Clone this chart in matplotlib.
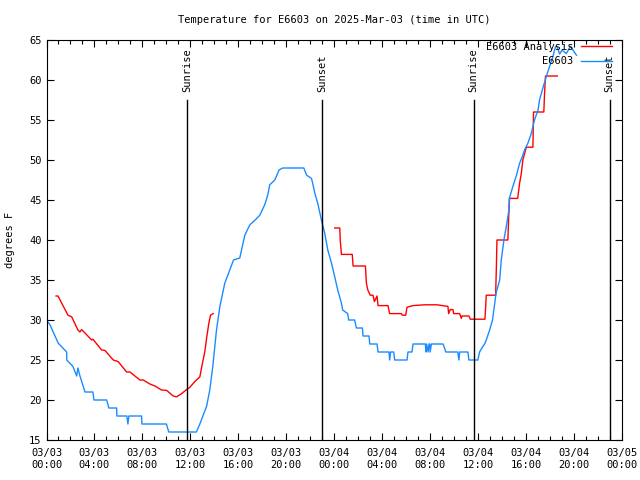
import matplotlib
matplotlib.use("Agg")
import matplotlib.pyplot as plt
import matplotlib.dates as mdates
import numpy as np
import pandas as pd

start = pd.Timestamp("2025-03-03 00:00")

# station obs: hours since 03/03 00:00 UTC, degrees F
obs_hours = [0.0, 0.29, 0.71, 0.98, 1.68, 1.69, 2.2, 2.52, 2.62, 2.79, 3.21, 3.87, 3.96,
             5.02, 5.2, 5.85, 5.87, 6.7, 6.79, 6.87, 7.04, 7.93, 7.96, 10.0, 10.2, 12.5,
             12.79, 13.04, 13.35, 13.62, 13.87, 14.18, 14.46, 14.87, 15.29, 15.6, 16.12,
             16.54, 16.96, 17.4, 17.79, 18.2, 18.45, 18.62, 19.04, 19.4, 19.7, 21.46,
             21.7, 22.1, 22.2, 22.37, 22.62, 22.93, 23.2, 23.46, 23.77, 24.04, 24.29,
             24.6, 24.7, 25.12, 25.2, 25.7, 25.85, 26.35, 26.4, 26.9, 26.96, 27.57, 27.65,
             28.57, 28.62, 28.7, 28.96, 29.04, 30.07, 30.15, 30.48, 30.57, 31.6, 31.65,
             31.7, 31.83, 31.9, 31.96, 32.0, 32.1, 33.07, 33.2, 33.3, 34.3, 34.4, 34.46,
             35.15, 35.23, 35.98, 36.12, 36.4, 36.54, 36.68, 36.96, 37.2, 37.5, 37.8,
             37.93, 38.15, 38.35, 38.57, 38.6, 38.9, 39.2, 39.46, 39.68, 39.87, 40.15,
             40.43, 40.7, 41.0, 41.12, 41.4, 41.68, 41.96, 42.23, 42.46, 42.57, 42.8,
             43.0, 43.35, 43.7, 44.2]
obs_temp = [30, 29.4, 28, 27.1, 26, 25, 24.2, 23, 24, 23, 21, 21, 20,
            20, 19, 19, 18, 18, 17, 18, 18, 18, 17, 17, 16, 16,
            17, 18, 19.2, 21.25, 24.2, 28.75, 31.7, 34.6, 36.25, 37.5, 37.75,
            40.6, 41.9, 42.5, 43.1, 44.4, 45.6, 46.9, 47.5, 48.75, 49, 49,
            48.1, 47.7, 47.1, 45.9, 44.6, 42.5, 40.9, 38.75, 37.1, 35.4, 33.75,
            32.1, 31.25, 30.8, 30, 30, 29, 29, 28, 28, 27, 27, 26,
            26, 25, 26, 26, 25, 25, 26, 26, 27, 27, 26,
            27, 26, 27, 27, 26, 27, 27, 26.5, 26, 26, 25, 26,
            26, 25, 25, 26, 26.7, 27, 27.5, 28.75, 30, 33.4, 35,
            37.5, 40, 41.7, 43.75, 45.2, 46.7, 48.1, 49.6, 50.4, 51.25, 52.1,
            53.3, 55, 56.25, 57.5, 59, 60.4, 61.7, 62.9, 64.2, 64.2, 63.25,
            63.75, 63.3, 64.2, 63.1]

# analysis, two pieces (gap in the afternoon/evening of 03/03)
ana1_hours = [0.8, 0.96, 1.79, 2.1, 2.62, 2.79, 2.93, 3.77, 3.87, 4.6, 4.87, 5.57, 5.98,
              6.68, 6.96, 7.79, 8.07, 8.62, 9.04, 9.6, 10.02, 10.57, 10.85, 11.27, 11.68,
              11.96, 12.37, 12.79, 12.98, 13.2, 13.35, 13.54, 13.68, 13.9]
ana1_temp = [33, 33, 30.6, 30.4, 28.75, 28.5, 28.8, 27.5, 27.6, 26.25, 26.2, 25, 24.8,
             23.5, 23.5, 22.5, 22.5, 22, 21.75, 21.25, 21.2, 20.5, 20.4, 20.8, 21.3,
             21.6, 22.3, 22.9, 24.4, 26, 27.7, 29.6, 30.6, 30.8]
ana2_hours = [24.04, 24.46, 24.5, 24.6, 25.5, 25.57, 26.6, 26.68, 26.8, 27.0, 27.23, 27.35,
              27.57, 27.65, 28.48, 28.62, 29.6, 29.68, 29.96, 30.07, 30.57, 31.54, 32.57,
              33.48, 33.54, 33.68, 33.9, 33.96, 34.46, 34.6, 34.65, 35.23, 35.35, 36.57,
              36.68, 37.46, 37.52, 37.57, 38.48, 38.54, 38.62, 39.3, 39.46, 39.6, 39.73,
              40.02, 40.57, 40.62, 41.48, 41.54, 41.62, 42.6]
ana2_temp = [41.5, 41.5, 40, 38.2, 38.2, 36.75, 36.75, 34.6, 33.75, 33.1, 33.1, 32.3,
             33.0, 31.8, 31.8, 30.8, 30.8, 30.6, 30.6, 31.6, 31.8, 31.9, 31.9,
             31.7, 30.8, 31.3, 31.3, 30.8, 30.8, 30.2, 30.5, 30.5, 30.1, 30.1,
             33.1, 33.1, 36.5, 40, 40, 42.5, 45.2, 45.2, 47.1, 48.3, 50,
             51.6, 51.6, 56.0, 56.0, 58.3, 60.5, 60.5]

sun_hours = [11.7, 22.96, 35.62, 46.96]
sun_labels = ["Sunrise", "Sunset", "Sunrise", "Sunset"]

def to_time(h):
    return start + pd.to_timedelta(np.array(h), unit="h")

mono = "DejaVu Sans Mono"
fs = 7.5

fig = plt.figure(figsize=(6.4, 4.8), dpi=100)
ax = fig.add_axes([46.5 / 640, 40 / 480, 575.5 / 640, 400 / 480])

ax.plot(to_time(ana1_hours), ana1_temp, color="#ff0000", lw=1.0, label="E6603 Analysis")
ax.plot(to_time(ana2_hours), ana2_temp, color="#ff0000", lw=1.0)
ax.plot(to_time(obs_hours), obs_temp, color="#1a8cff", lw=1.0, label="E6603")

for h, lab in zip(sun_hours, sun_labels):
    t = to_time([h])[0]
    ax.plot([t, t], [15, 57.5], color="black", lw=1.0)
    ax.text(t, 58.5, lab, rotation=90, ha="center", va="bottom",
            fontsize=fs, family=mono)

ax.set_xlim(start, start + pd.Timedelta(hours=48))
ax.set_ylim(15, 65)
ax.set_yticks(np.arange(15, 66, 5))
ax.xaxis.set_major_locator(mdates.HourLocator(byhour=range(0, 24, 4)))
ax.xaxis.set_minor_locator(mdates.HourLocator())
ax.xaxis.set_major_formatter(mdates.DateFormatter("%m/%d\n%H:%M"))
ax.tick_params(which="both", direction="in", top=True, right=True, labelsize=fs)
ax.tick_params(which="major", length=5, width=0.8)
ax.tick_params(which="minor", length=3, width=0.8)
ax.tick_params(axis="x", pad=6)
for lab in ax.get_xticklabels() + ax.get_yticklabels():
    lab.set_family(mono)
for s in ax.spines.values():
    s.set_linewidth(0.8)

ax.set_ylabel("degrees F", fontsize=fs, family=mono, labelpad=10)
ax.set_title("Temperature for E6603 on 2025-Mar-03 (time in UTC)",
             fontsize=fs, family=mono, pad=12)

ax.legend(loc="upper right", bbox_to_anchor=(0.982, 0.995), frameon=False,
          markerfirst=False, prop={"family": mono, "size": fs},
          handlelength=2.9, handletextpad=0.8, labelspacing=0.4, borderpad=0,
          borderaxespad=0)

fig.savefig("out.png", dpi=100)
